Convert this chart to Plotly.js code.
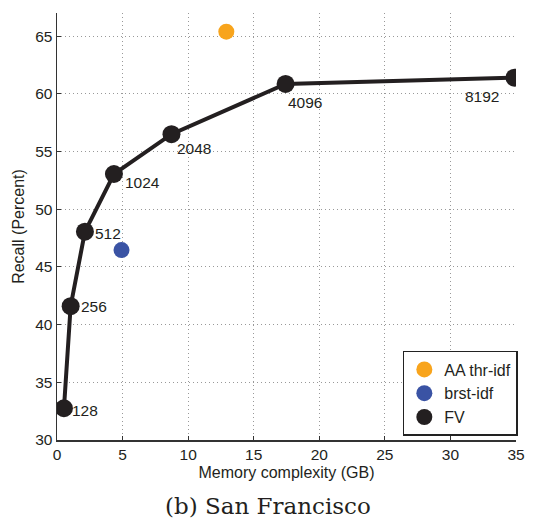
<!DOCTYPE html>
<html>
<head>
<meta charset="utf-8">
<script src="https://cdn.plot.ly/plotly-3.0.1.min.js"></script>
<style>html,body{margin:0;padding:0;background:#fff;}#chart{width:534px;height:518px;}</style>
</head>
<body>
<div id="chart"></div>
<script>
// Data
const fvMemory = [0.53, 1.04, 2.13, 4.34, 8.73, 17.43, 34.88];
const fvRecall = [32.75, 41.6, 48.05, 53.05, 56.5, 60.85, 61.4];
const fvLabels = ['128', '256', '512', '1024', '2048', '4096', '8192'];
const aaMemory = [12.91];
const aaRecall = [65.38];
const brstMemory = [4.92];
const brstRecall = [46.46];
const xTicks = [0, 5, 10, 15, 20, 25, 30, 35];
const yTicks = [30, 35, 40, 45, 50, 55, 60, 65];

// Label styling (offsets in pixels)
const labelAnchor = ['left', 'left', 'left', 'left', 'left', 'left', 'right'];
const labelXShift = [6, 8, 8, 9, 4, 0, -13];
const labelYShift = [-2, 0, -2, -9, -14, -19, -19];

const font = 'Liberation Sans, Arial, Helvetica, sans-serif';
const black = '#231f20';

const traces = [
  {x: fvMemory, y: fvRecall, mode: 'lines', line: {color: black, width: 4}, showlegend: false, hoverinfo: 'skip'},
  {x: aaMemory, y: aaRecall, mode: 'markers', name: 'AA thr-idf', marker: {color: '#f8a41c', size: 16}},
  {x: brstMemory, y: brstRecall, mode: 'markers', name: 'brst-idf', marker: {color: '#3a53a4', size: 16}},
  {x: fvMemory, y: fvRecall, mode: 'markers', name: 'FV', marker: {color: black, size: 18}}
];

const annotations = fvLabels.map((t, i) => ({
  x: fvMemory[i], y: fvRecall[i], text: t, showarrow: false,
  xanchor: labelAnchor[i], yanchor: 'middle', xshift: labelXShift[i], yshift: labelYShift[i],
  font: {family: font, size: 15.5, color: black}
}));
annotations.push({
  xref: 'paper', yref: 'paper', x: 0.46, y: -0.155, xanchor: 'center', yanchor: 'middle',
  text: '(b) San Francisco', showarrow: false,
  font: {family: 'DejaVu Serif, serif', size: 23, color: black}
});

const axisCommon = {
  showgrid: true, gridcolor: '#999', griddash: '1px,3px', gridwidth: 1,
  zeroline: false, showline: true, linecolor: '#333', linewidth: 1.5,
  ticks: 'inside', ticklen: 4, tickcolor: '#333',
  tickfont: {family: font, size: 15.5, color: black}
};

const layout = {
  width: 534, height: 518,
  margin: {l: 57, r: 18, t: 13, b: 78},
  paper_bgcolor: '#fff', plot_bgcolor: '#fff',
  xaxis: Object.assign({}, axisCommon, {
    range: [0, 35], tickvals: xTicks, ticktext: xTicks.map(String),
    title: {text: 'Memory complexity (GB)', font: {family: font, size: 16, color: black}, standoff: 4}
  }),
  yaxis: Object.assign({}, axisCommon, {
    range: [30, 67], tickvals: yTicks, ticktext: yTicks.map(String),
    title: {text: 'Recall (Percent)', font: {family: font, size: 16, color: black}, standoff: 6}
  }),
  legend: {
    x: 1.004, y: 0.0094, xanchor: 'right', yanchor: 'bottom',
    bgcolor: '#fff', bordercolor: '#222', borderwidth: 1.5,
    font: {family: font, size: 16, color: black},
    tracegroupgap: 0
  },
  annotations: annotations,
  showlegend: true
};

Plotly.newPlot('chart', traces, layout, {displayModeBar: false, staticPlot: true});
</script>
</body>
</html>
